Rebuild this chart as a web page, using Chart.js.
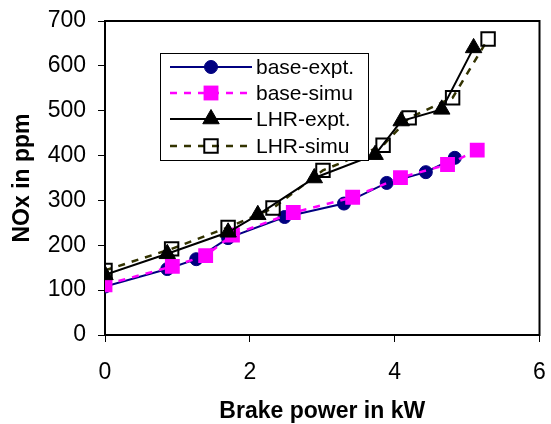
<!DOCTYPE html>
<html>
<head>
<meta charset="utf-8">
<script src="https://cdn.jsdelivr.net/npm/chart.js@4.4.1/dist/chart.umd.min.js"></script>
<style>
  html, body { margin: 0; padding: 0; background: #fff; }
  #wrap { width: 551px; height: 424px; }
</style>
</head>
<body>
<div id="wrap"><canvas id="c" width="551" height="424"></canvas></div>
<script>
// ---- data ----
const baseExptX = [0, 0.86, 1.26, 1.70, 2.48, 3.30, 3.89, 4.43, 4.83];
const baseExptY = [108, 147, 169, 216, 263, 293, 339, 363, 395];

const baseSimuX = [0, 0.93, 1.39, 1.76, 2.60, 3.42, 4.08, 4.73, 5.14];
const baseSimuY = [112, 153, 177, 223, 273, 307, 351, 380, 412];

const lhrExptX = [0, 0.86, 1.70, 2.11, 2.89, 3.73, 4.09, 4.65, 5.09];
const lhrExptY = [134, 181, 229, 268, 350, 402, 477, 503, 640];

const lhrSimuX = [0, 0.92, 1.70, 2.32, 3.01, 3.84, 4.20, 4.80, 5.29];
const lhrSimuY = [144, 192, 240, 283, 367, 423, 484, 529, 660];

const seriesNames = ['base-expt.', 'base-simu', 'LHR-expt.', 'LHR-simu'];
const xTitle = 'Brake power in kW';
const yTitle = 'NOx in ppm';

function pts(xs, ys) { return xs.map((x, i) => ({ x: x, y: ys[i] })); }

const FONT = "'Liberation Sans', Arial, sans-serif";

const datasets = [
  { label: seriesNames[0], data: pts(baseExptX, baseExptY), showLine: true,
    borderColor: '#000080', backgroundColor: '#000080', borderWidth: 2,
    pointStyle: 'circle', pointRadius: 6.5, pointBorderWidth: 1,
    pointBackgroundColor: '#000080', pointBorderColor: '#000080', order: 3 },
  { label: seriesNames[1], data: pts(baseSimuX, baseSimuY), showLine: true,
    borderColor: '#FF00FF', backgroundColor: '#FF00FF', borderWidth: 2.5, borderDash: [7, 7],
    pointStyle: 'rect', pointRadius: 10.5, pointBorderWidth: 0,
    pointBackgroundColor: '#FF00FF', pointBorderColor: '#FF00FF', order: 2 },
  { label: seriesNames[2], data: pts(lhrExptX, lhrExptY), showLine: true,
    borderColor: '#000000', backgroundColor: '#000000', borderWidth: 2,
    pointStyle: 'triangle', pointRadius: 9.5, pointBorderWidth: 1,
    pointBackgroundColor: '#000000', pointBorderColor: '#000000', order: 0 },
  { label: seriesNames[3], data: pts(lhrSimuX, lhrSimuY), showLine: true,
    borderColor: '#333300', backgroundColor: 'rgba(0,0,0,0)', borderWidth: 2.5, borderDash: [7, 7],
    pointStyle: 'rect', pointRadius: 9.5, pointBorderWidth: 2,
    pointBackgroundColor: 'rgba(0,0,0,0)', pointBorderColor: '#000000', order: 1 }
];

const frame = {
  id: 'frame',
  beforeDatasetsDraw(chart) {
    const a = chart.chartArea, ctx = chart.ctx;
    ctx.save();
    ctx.strokeStyle = '#000';
    ctx.lineWidth = 2;
    ctx.strokeRect(a.left, a.top, a.right - a.left, a.bottom - a.top);
    ctx.restore();
  }
};

const boxLegend = {
  id: 'boxLegend',
  afterDatasetsDraw(chart) {
    const ctx = chart.ctx;
    const bx = 160, by = 53, bw = 208, bh = 107;
    ctx.save();
    ctx.fillStyle = '#fff';
    ctx.fillRect(bx, by, bw, bh);
    ctx.strokeStyle = '#000';
    ctx.lineWidth = 1;
    ctx.strokeRect(bx + 0.5, by + 0.5, bw, bh);
    const rows = [67, 93, 119, 146];
    const x0 = 170, x1 = 252, xm = 211;
    chart.data.datasets.forEach((ds, i) => {
      const y = rows[i];
      ctx.save();
      ctx.strokeStyle = ds.borderColor;
      ctx.lineWidth = ds.borderWidth;
      ctx.setLineDash(ds.borderDash || []);
      ctx.beginPath();
      ctx.moveTo(x0, y);
      ctx.lineTo(x1, y);
      ctx.stroke();
      ctx.restore();
      ctx.save();
      ctx.fillStyle = ds.pointBackgroundColor;
      ctx.strokeStyle = ds.pointBorderColor;
      ctx.lineWidth = ds.pointBorderWidth;
      Chart.helpers.drawPoint(ctx, { pointStyle: ds.pointStyle, radius: ds.pointRadius, rotation: 0, borderWidth: ds.pointBorderWidth }, xm, y);
      ctx.restore();
      ctx.fillStyle = '#000';
      ctx.font = '21px ' + FONT;
      ctx.textBaseline = 'middle';
      ctx.textAlign = 'left';
      ctx.fillText(ds.label, 256, y + 1);
    });
    ctx.restore();
  }
};

new Chart(document.getElementById('c'), {
  type: 'scatter',
  data: { datasets: datasets },
  options: {
    responsive: false,
    devicePixelRatio: 1,
    animation: false,
    layout: { padding: { left: 0, top: 21, right: 8, bottom: 0 } },
    plugins: { legend: { display: false }, tooltip: { enabled: false } },
    scales: {
      x: {
        type: 'linear', min: 0, max: 6,
        ticks: { stepSize: 2, color: '#000', font: { family: FONT, size: 23 }, padding: 17, maxRotation: 0 },
        grid: { display: true, drawOnChartArea: false, drawTicks: true, tickLength: 7, color: '#000', lineWidth: 1 },
        border: { display: true, color: '#000', width: 2 },
        title: { display: true, text: xTitle, color: '#000', font: { family: FONT, size: 23, weight: 'bold' }, padding: { top: 0, bottom: -1 } },
        afterFit(s) { s.height = 89; s.paddingRight = 0; s.paddingLeft = 0; }
      },
      y: {
        type: 'linear', min: 0, max: 700,
        ticks: { stepSize: 100, color: '#000', font: { family: FONT, size: 23 }, padding: 12 },
        grid: { display: true, drawOnChartArea: false, drawTicks: true, tickLength: 7, color: '#000', lineWidth: 1 },
        border: { display: true, color: '#000', width: 2 },
        title: { display: true, text: yTitle, color: '#000', font: { family: FONT, size: 23, weight: 'bold' }, padding: { top: 9, bottom: 0 } },
        afterFit(s) { s.width = 105; s.paddingTop = 0; s.paddingBottom = 0; }
      }
    }
  },
  plugins: [frame, boxLegend]
});
</script>
</body>
</html>
